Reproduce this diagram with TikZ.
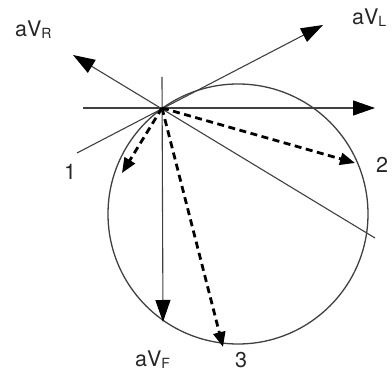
\documentclass[tikz,border=0pt]{standalone}
\usepackage{fontspec}
\setmainfont{TeX Gyre Heros}
\usetikzlibrary{arrows.meta}

\newcommand{\sublbl}[1]{\raisebox{-1.5pt}{\fontsize{14}{16}\selectfont #1}}

\begin{document}
\begin{tikzpicture}[x=1pt,y=-1pt,
		thin line/.style={draw=black!75,line width=1.1pt},
		big tip/.style={-{Triangle[length=22pt,width=15pt,color=black]}},
		dash arrow/.style={line width=2.8pt,dash pattern=on 7pt off 4.5pt,-{Triangle[length=15pt,width=12pt]}},
		lbl/.style={font=\fontsize{21.5}{24}\selectfont,inner sep=0pt,text=black!85}]
	\useasboundingbox (0,0) rectangle (392,377);
	\coordinate (p) at (162,108);
	\draw[thin line,line width=1.3pt] (238,214) circle[radius=130pt];
	\coordinate (h0) at (83,108); \coordinate (h1) at (375,108);
	\coordinate (v0) at (162,77); \coordinate (f) at (163,322);
	\coordinate (l0) at (77,153); \coordinate (l) at (323,25);
	\coordinate (r) at (73,55); \coordinate (r0) at (375,238);
	\coordinate (e1) at (122,173);
	\coordinate (e2) at (355,163);
	\coordinate (e3) at (223,347);
	\draw[thin line,big tip] (h0) -- (h1);
	\draw[thin line,big tip] (v0) -- (f);
	\draw[thin line,big tip] (l0) -- (l);
	\draw[thin line,big tip] (r0) -- (r);
	\draw[dash arrow] (p) -- (e1);
	\draw[dash arrow] (p) -- (e2);
	\draw[dash arrow] (p) -- (e3);
	\node[lbl,anchor=base west] (vr) at (15,37) {aV\sublbl{R}};
	\node[lbl,anchor=base west] (vl) at (352,25) {aV\sublbl{L}};
	\node[lbl,anchor=base west] (vf) at (135,367) {aV\sublbl{F}};
	\node[lbl,anchor=base] (n1) at (70,180) {1};
	\node[lbl,anchor=base] (n2) at (382,173) {2};
	\node[lbl,anchor=base] (n3) at (241,368) {3};
\end{tikzpicture}
\end{document}
